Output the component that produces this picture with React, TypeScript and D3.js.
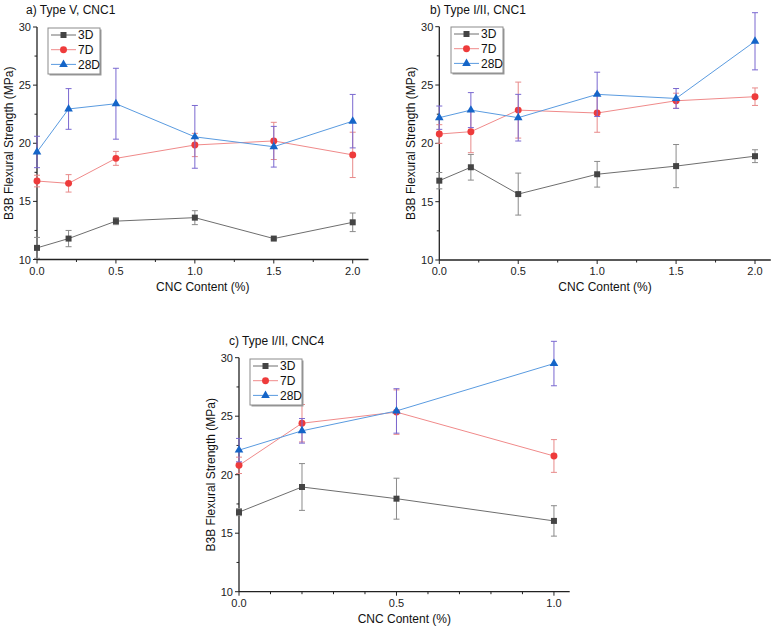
import React from "react";
import * as d3 from "d3";

const seriesNames = ["3D", "7D", "28D"];

const xA = [0, 0.2, 0.5, 1.0, 1.5, 2.0];
const a3D = [11.0, 11.8, 13.3, 13.6, 11.8, 13.2];
const a3DErr = [0.9, 0.7, 0.3, 0.6, 0.1, 0.8];
const a7D = [16.75, 16.55, 18.7, 19.85, 20.2, 19.0];
const a7DErr = [0.5, 0.75, 0.6, 1.0, 1.6, 1.95];
const a28D = [19.25, 22.95, 23.4, 20.55, 19.7, 21.9];
const a28DErr = [1.35, 1.75, 3.05, 2.7, 1.75, 2.3];

const xB = [0, 0.2, 0.5, 1.0, 1.5, 2.0];
const b3D = [16.8, 17.95, 15.65, 17.35, 18.05, 18.9];
const b3DErr = [0.7, 1.1, 1.8, 1.1, 1.85, 0.55];
const b7D = [20.8, 21.0, 22.85, 22.6, 23.65, 24.0];
const b7DErr = [0.8, 1.8, 2.4, 1.65, 0.65, 0.75];
const b28D = [22.2, 22.85, 22.2, 24.2, 23.85, 28.75];
const b28DErr = [1.0, 1.5, 2.0, 1.9, 0.85, 2.45];

const xC = [0, 0.2, 0.5, 1.0];
const c3D = [16.8, 18.95, 17.95, 16.05];
const c3DErr = [0.3, 2.0, 1.75, 1.3];
const c7D = [20.8, 24.4, 25.35, 21.6];
const c7DErr = [0.7, 1.6, 1.9, 1.4];
const c28D = [22.1, 23.75, 25.45, 29.5];
const c28DErr = [1.0, 1.05, 1.9, 1.9];

const yTicks = [10, 15, 20, 25, 30];
const yMinor = [12.5, 17.5, 22.5, 27.5];

const FONT = "'Liberation Sans', Arial, sans-serif";

const styles = [
  { line: "#6e6e6e", marker: "#444444", err: "#8a8a8a", sym: d3.symbolSquare, size: 36 },
  { line: "#f08a8a", marker: "#ee3b3b", err: "#e88a8a", sym: d3.symbolCircle, size: 38 },
  { line: "#5a9be0", marker: "#1565c8", err: "#7a68d0", sym: d3.symbolTriangle, size: 32 },
];

type PanelProps = {
  title: string;
  titleX: number;
  titleY: number;
  x0: number;
  x1: number;
  yTop: number;
  yBot: number;
  xMax: number;
  xTicks: number[];
  xMinorStep: number;
  xs: number[];
  ys: number[][];
  errs: number[][];
  legendX: number;
  legendY: number;
  yTitleX: number;
};

function Panel(p: PanelProps) {
  const x = d3.scaleLinear().domain([0, p.xMax]).range([p.x0, p.x1]);
  const y = d3.scaleLinear().domain([10, 30]).range([p.yBot, p.yTop]);
  const minorX = d3.range(p.xMinorStep, p.xMax + 1e-9, p.xMinorStep).filter(
    (v) => !p.xTicks.some((t) => Math.abs(t - v) < 1e-6)
  );
  const line = d3.line<[number, number]>().x((d) => x(d[0])).y((d) => y(d[1]));
  const cap = 3;
  return (
    <g fontFamily={FONT}>
      <text x={p.titleX} y={p.titleY} fontSize={12} fill="#111">{p.title}</text>
      <line x1={p.x0} x2={p.x0} y1={p.yTop} y2={p.yBot} stroke="#222" strokeWidth={1.3} />
      <line x1={p.x0} x2={p.x1} y1={p.yBot} y2={p.yBot} stroke="#222" strokeWidth={1.3} />
      {yTicks.map((t) => (
        <g key={"yt" + t}>
          <line x1={p.x0 - 4} x2={p.x0} y1={y(t)} y2={y(t)} stroke="#222" />
          <text x={p.x0 - 6} y={y(t) + 4} fontSize={11} textAnchor="end" fill="#222">{t}</text>
        </g>
      ))}
      {yMinor.map((t) => (
        <line key={"ym" + t} x1={p.x0 - 2.5} x2={p.x0} y1={y(t)} y2={y(t)} stroke="#222" />
      ))}
      {p.xTicks.map((t) => (
        <g key={"xt" + t}>
          <line x1={x(t)} x2={x(t)} y1={p.yBot} y2={p.yBot + 4} stroke="#222" />
          <text x={x(t)} y={p.yBot + 15} fontSize={11} textAnchor="middle" fill="#222">{t.toFixed(1)}</text>
        </g>
      ))}
      {minorX.map((t) => (
        <line key={"xm" + t} x1={x(t)} x2={x(t)} y1={p.yBot} y2={p.yBot + 2.5} stroke="#222" />
      ))}
      <text x={(p.x0 + p.x1) / 2} y={p.yBot + 31} fontSize={12} textAnchor="middle" fill="#111">CNC Content (%)</text>
      <text
        transform={`translate(${p.yTitleX},${(p.yTop + p.yBot) / 2}) rotate(-90)`}
        fontSize={12}
        textAnchor="middle"
        dominantBaseline="middle"
        fill="#111"
      >
        B3B Flexural Strength (MPa)
      </text>
      {p.ys.map((vals, si) => {
        const st = styles[si];
        const pts = p.xs.map((xv, i) => [xv, vals[i]] as [number, number]);
        const sym = d3.symbol().type(st.sym).size(st.size)();
        return (
          <g key={"s" + si}>
            <path d={line(pts) || ""} fill="none" stroke={st.line} strokeWidth={1} />
            {pts.map((d, i) => {
              const e = p.errs[si][i];
              const cx = x(d[0]);
              return (
                <g key={"e" + i} stroke={st.err} strokeWidth={1}>
                  <line x1={cx} x2={cx} y1={y(d[1] + e)} y2={y(d[1] - e)} />
                  <line x1={cx - cap} x2={cx + cap} y1={y(d[1] + e)} y2={y(d[1] + e)} />
                  <line x1={cx - cap} x2={cx + cap} y1={y(d[1] - e)} y2={y(d[1] - e)} />
                </g>
              );
            })}
            {pts.map((d, i) => (
              <path key={"m" + i} d={sym || ""} transform={`translate(${x(d[0])},${y(d[1])})`} fill={st.marker} />
            ))}
          </g>
        );
      })}
      <g transform={`translate(${p.legendX},${p.legendY})`}>
        <rect x={1.5} y={1.5} width={52} height={46} fill="#9a9a9a" />
        <rect x={0} y={0} width={52} height={46} fill="#fff" stroke="#8c8c8c" strokeWidth={1} />
        {seriesNames.map((n, i) => {
          const st = styles[i];
          const ly = 7 + i * 14.7;
          const sym = d3.symbol().type(st.sym).size(st.size)();
          return (
            <g key={"l" + i}>
              <line x1={3} x2={28} y1={ly} y2={ly} stroke={st.line} strokeWidth={1} />
              <path d={sym || ""} transform={`translate(15.5,${ly})`} fill={st.marker} />
              <text x={30} y={ly + 4.3} fontSize={12} fill="#111">{n}</text>
            </g>
          );
        })}
      </g>
    </g>
  );
}

export default function App() {
  return (
    <svg width={777} height={631} style={{ position: "absolute", left: 0, top: 0, background: "#fff" }}>
      <rect width={777} height={631} fill="#fff" />
      <Panel
        title="a) Type V, CNC1"
        titleX={26}
        titleY={14}
        x0={37}
        x1={368.5}
        yTop={27}
        yBot={259.5}
        xMax={2.1}
        xTicks={[0, 0.5, 1.0, 1.5, 2.0]}
        xMinorStep={0.25}
        xs={xA}
        ys={[a3D, a7D, a28D]}
        errs={[a3DErr, a7DErr, a28DErr]}
        legendX={48}
        legendY={28}
        yTitleX={10}
      />
      <Panel
        title="b) Type I/II, CNC1"
        titleX={430}
        titleY={14}
        x0={439.3}
        x1={770.8}
        yTop={26.7}
        yBot={260}
        xMax={2.1}
        xTicks={[0, 0.5, 1.0, 1.5, 2.0]}
        xMinorStep={0.25}
        xs={xB}
        ys={[b3D, b7D, b28D]}
        errs={[b3DErr, b7DErr, b28DErr]}
        legendX={451}
        legendY={27}
        yTitleX={412}
      />
      <Panel
        title="c) Type I/II, CNC4"
        titleX={229}
        titleY={345}
        x0={239}
        x1={569.7}
        yTop={357.7}
        yBot={591.7}
        xMax={1.05}
        xTicks={[0, 0.5, 1.0]}
        xMinorStep={0.1}
        xs={xC}
        ys={[c3D, c7D, c28D]}
        errs={[c3DErr, c7DErr, c28DErr]}
        legendX={250}
        legendY={359}
        yTitleX={212}
      />
    </svg>
  );
}
